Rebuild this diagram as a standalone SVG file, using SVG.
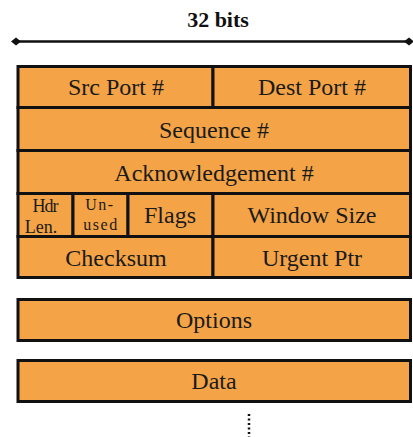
<svg xmlns="http://www.w3.org/2000/svg" width="413" height="437" viewBox="0 0 413 437">
<style>
.f{fill:#F4A446;stroke:#111;stroke-width:3}
.t{font-family:'Liberation Serif','Times New Roman',Tinos,'DejaVu Serif',serif;font-size:24px;fill:#1a1a1a;text-anchor:middle}
.s{font-size:18px}
.u{font-size:16px;letter-spacing:1.5px}
.h{font-family:'Liberation Serif','Times New Roman',Tinos,'DejaVu Serif',serif;font-size:22px;font-weight:bold;fill:#111;text-anchor:middle}
</style>
<defs>
<marker id="dia" markerWidth="10" markerHeight="10" refX="5" refY="5" markerUnits="userSpaceOnUse" orient="auto">
<path d="M0,5 L5,1 L10,5 L5,9 Z" fill="#111"/>
</marker>
</defs>
<g id="connectors">
<line x1="16" y1="41.5" x2="409" y2="41.5" stroke="#111" stroke-width="2.5" marker-start="url(#dia)" marker-end="url(#dia)"/>
<line x1="249" y1="414" x2="249" y2="437" stroke="#111" stroke-width="2.5" stroke-dasharray="2,2.5"/>
</g>
<text class="h" x="218" y="27">32 bits</text>
<g id="src"><rect class="f" x="18" y="66.5" width="195" height="41"/><text class="t" x="116" y="95">Src Port #</text></g>
<g id="dest"><rect class="f" x="213" y="66.5" width="197.5" height="41"/><text class="t" x="312" y="95">Dest Port #</text></g>
<g id="seq"><rect class="f" x="18" y="107.5" width="392.5" height="43"/><text class="t" x="214" y="137.5">Sequence #</text></g>
<g id="ack"><rect class="f" x="18" y="150.5" width="392.5" height="43"/><text class="t" x="214" y="181">Acknowledgement #</text></g>
<g id="hdr"><rect class="f" x="18" y="193.5" width="55" height="43"/><text class="t s" x="45" y="212" letter-spacing="-1">Hdr</text><text class="t s" x="41" y="233">Len.</text></g>
<g id="unused"><rect class="f" x="73" y="193.5" width="55" height="43"/><text class="t u" x="100" y="210">Un-</text><text class="t u" x="101" y="230">used</text></g>
<g id="flags"><rect class="f" x="128" y="193.5" width="85" height="43"/><text class="t" x="170" y="223">Flags</text></g>
<g id="window"><rect class="f" x="213" y="193.5" width="197.5" height="43"/><text class="t" x="312" y="223">Window Size</text></g>
<g id="checksum"><rect class="f" x="18" y="236.5" width="195" height="41"/><text class="t" x="116" y="266">Checksum</text></g>
<g id="urgent"><rect class="f" x="213" y="236.5" width="197.5" height="41"/><text class="t" x="312" y="266">Urgent Ptr</text></g>
<g id="options"><rect class="f" x="18" y="299.5" width="392.5" height="41"/><text class="t" x="214" y="328">Options</text></g>
<g id="data"><rect class="f" x="18" y="360.5" width="392.5" height="41"/><text class="t" x="214" y="389">Data</text></g>
</svg>
